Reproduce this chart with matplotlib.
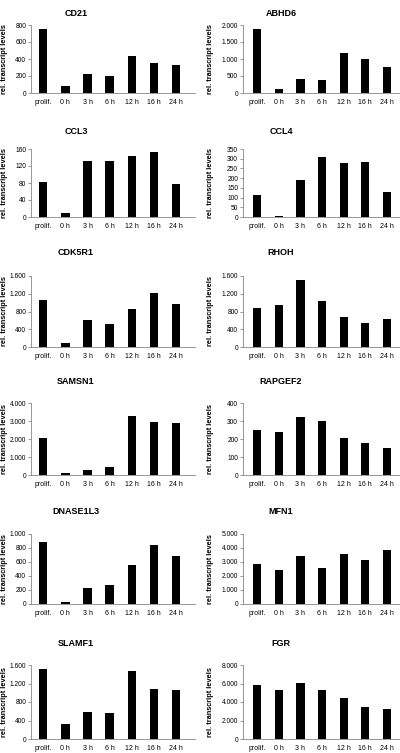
import matplotlib
matplotlib.use("Agg")
import matplotlib.pyplot as plt
from matplotlib.ticker import FuncFormatter

plt.rcParams['font.family'] = ['Liberation Sans', 'DejaVu Sans']

categories = ["prolif.", "0 h", "3 h", "6 h", "12 h", "16 h", "24 h"]

genes = ["CD21", "ABHD6", "CCL3", "CCL4", "CDK5R1", "RHOH",
         "SAMSN1", "RAPGEF2", "DNASE1L3", "MFN1", "SLAMF1", "FGR"]

cd21 = [750, 85, 220, 195, 435, 355, 335]
abhd6 = [1880, 110, 410, 380, 1170, 1000, 760]
ccl3 = [82, 9, 132, 132, 144, 152, 78]
ccl4 = [113, 5, 190, 310, 280, 285, 130]
cdk5r1 = [1070, 100, 600, 520, 850, 1220, 970]
rhoh = [880, 950, 1500, 1030, 670, 540, 630]
samsn1 = [2050, 130, 300, 420, 3280, 2950, 2900]
rapgef2 = [250, 238, 322, 300, 205, 178, 150]
dnase1l3 = [890, 35, 225, 270, 560, 840, 690]
mfn1 = [2850, 2400, 3400, 2600, 3600, 3150, 3850]
slamf1 = [1510, 320, 580, 560, 1460, 1090, 1060]
fgr = [5850, 5300, 6050, 5350, 4480, 3500, 3250]

values = [cd21, abhd6, ccl3, ccl4, cdk5r1, rhoh,
          samsn1, rapgef2, dnase1l3, mfn1, slamf1, fgr]

y_max = [800, 2000, 160, 350, 1600, 1600, 4000, 400, 1000, 5000, 1600, 8000]
y_step = [200, 500, 40, 50, 400, 400, 1000, 100, 200, 1000, 400, 2000]

W, H = 400, 753
fig = plt.figure(figsize=(W / 100, H / 100), dpi=100)

tops = [25, 149, 276, 403, 534, 665]
bottoms = [93, 217, 347, 475, 604, 739]
title_y = [13, 131, 253, 382, 512, 643]
col_left = [31, 243]
col_right = [195, 400]
title_x = [76, 281]
ylab_x = [4.5, 210]


def fmt(v, pos):
    return f"{int(v):,}".replace(",", ".")


for i, gene in enumerate(genes):
    r, c = divmod(i, 2)
    l = col_left[c] / W
    w = (col_right[c] - col_left[c]) / W
    b = 1 - bottoms[r] / H
    h = (bottoms[r] - tops[r]) / H
    ax = fig.add_axes([l, b, w, h])
    x = list(range(len(categories)))
    ax.bar(x, values[i], width=0.38, color="black")
    ax.set_ylim(0, y_max[i])
    if c == 0:
        ax.set_xlim(-0.55, 6.85)
    else:
        ax.set_xlim(-0.65, 6.6)
    ticks = list(range(0, y_max[i] + 1, y_step[i]))
    ax.set_yticks(ticks)
    ax.yaxis.set_major_formatter(FuncFormatter(fmt))
    ax.set_xticks(x)
    ax.set_xticklabels(categories)
    ax.tick_params(axis='y', labelsize=4.8, length=2, width=0.6,
                   color="#888888", pad=1.5)
    ax.tick_params(axis='x', labelsize=5, length=0, pad=4)
    for s in ["top", "right"]:
        ax.spines[s].set_visible(False)
    for s in ["left", "bottom"]:
        ax.spines[s].set_color("#888888")
        ax.spines[s].set_linewidth(0.6)
    fig.text(title_x[c] / W, 1 - title_y[r] / H, gene, ha="center",
             va="center", fontsize=6.5, fontweight="bold")
    fig.text(ylab_x[c] / W, 1 - (tops[r] + bottoms[r]) / 2 / H,
             "rel. transcript levels", rotation=90, ha="center",
             va="center", fontsize=5.3, fontweight="bold")

fig.savefig("out.png", dpi=100, facecolor="white")
